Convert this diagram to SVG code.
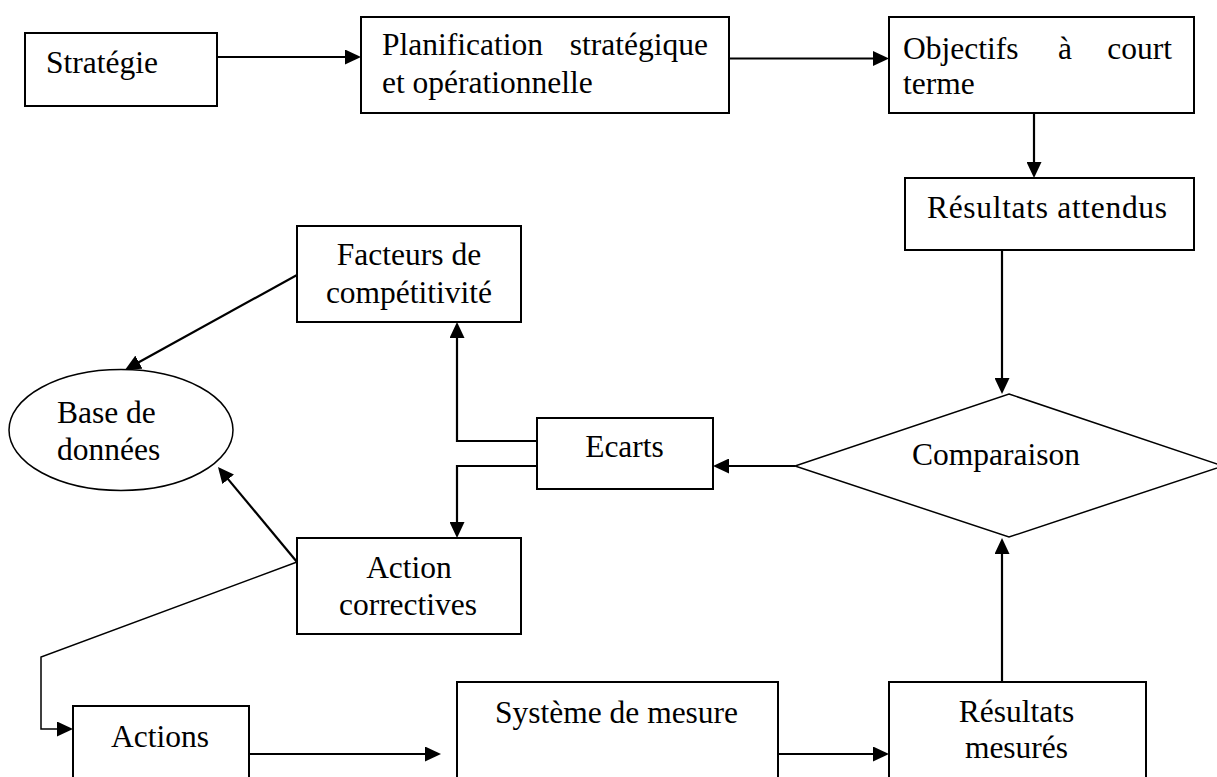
<svg xmlns="http://www.w3.org/2000/svg" width="1217" height="777" viewBox="0 0 1217 777">
  <style>
    text { font-family: "Liberation Serif", "Times New Roman", serif; font-size: 31.5px; fill: #000; }
    .mid { text-anchor: middle; }
    .end { text-anchor: end; }
    .box { fill: #fff; stroke: #000; stroke-width: 2; }
    .thin { fill: #fff; stroke: #000; stroke-width: 1.5; }
    .link { fill: none; stroke: #000; stroke-width: 2.2; }
    .link.fine { stroke-width: 1.5; }
    .arrow { marker-end: url(#head); }
  </style>
  <defs>
    <marker id="head" viewBox="0 0 16 15" refX="10" refY="7.5" markerWidth="16" markerHeight="15" markerUnits="userSpaceOnUse" orient="auto">
      <path d="M0,0 L16,7.5 L0,15 Z" fill="#000"/>
    </marker>
  </defs>

  <rect width="1217" height="777" fill="#fff"/>

  <!-- connectors -->
  <g id="connectors">
    <path class="link arrow" d="M217,57 H355"/>
    <path class="link arrow" d="M729,58.5 H883"/>
    <path class="link arrow" d="M1034,105 V172"/>
    <path class="link arrow" d="M1002,250 V388"/>
    <path class="link arrow" d="M795,466 H719"/>
    <path class="link arrow" d="M537,441 H457 V328"/>
    <path class="link arrow" d="M537,466 H457 V532"/>
    <path class="link arrow" d="M297,275 L130.2,367"/>
    <path class="link arrow" d="M297,562 L221.8,471.6"/>
    <path class="link fine arrow" d="M297,562 L41,657 V729 H67"/>
    <path class="link arrow" d="M249,754 H435"/>
    <path class="link arrow" d="M777,754 H883"/>
    <path class="link arrow" d="M1002,682 V544"/>
  </g>

  <g id="strategie">
    <rect class="box" x="25" y="33" width="192" height="73"/>
    <text x="46" y="73">Stratégie</text>
  </g>

  <g id="planification">
    <rect class="box" x="361" y="17" width="368" height="96"/>
    <text x="382" y="55">Planification</text>
    <text class="end" x="708" y="55">stratégique</text>
    <text x="382" y="93">et opérationnelle</text>
  </g>

  <g id="objectifs">
    <rect class="box" x="889" y="17" width="305" height="96"/>
    <text x="903" y="59">Objectifs</text>
    <text x="1058" y="59">à</text>
    <text class="end" x="1172" y="59">court</text>
    <text x="903" y="94">terme</text>
  </g>

  <g id="resultats-attendus">
    <rect class="box" x="905" y="178" width="289" height="72"/>
    <text x="927" y="218" textLength="240" lengthAdjust="spacing">Résultats attendus</text>
  </g>

  <g id="facteurs">
    <rect class="box" x="297" y="226" width="224" height="96"/>
    <text class="mid" x="409" y="265">Facteurs de</text>
    <text class="mid" x="409" y="303">compétitivité</text>
  </g>

  <g id="base-de-donnees">
    <ellipse class="thin" cx="121" cy="430" rx="112" ry="60.5"/>
    <text x="57" y="423">Base de</text>
    <text x="57" y="460">données</text>
  </g>

  <g id="ecarts">
    <rect class="box" x="537" y="418" width="176" height="71"/>
    <text class="mid" x="624.5" y="457">Ecarts</text>
  </g>

  <g id="comparaison">
    <polygon class="thin" points="1009,394 1223,466 1009,537 795,466"/>
    <text class="mid" x="996" y="465">Comparaison</text>
  </g>

  <g id="action-correctives">
    <rect class="box" x="297" y="538" width="224" height="96"/>
    <text class="mid" x="409" y="578">Action</text>
    <text class="mid" x="408" y="615">correctives</text>
  </g>

  <g id="actions">
    <rect class="box" x="73" y="706" width="176" height="100"/>
    <text class="mid" x="160" y="747">Actions</text>
  </g>

  <g id="systeme-de-mesure">
    <rect class="box" x="457" y="682" width="321" height="120"/>
    <text class="mid" x="616.5" y="723">Système de mesure</text>
  </g>

  <g id="resultats-mesures">
    <rect class="box" x="889" y="682" width="257" height="120"/>
    <text class="mid" x="1016.5" y="722">Résultats</text>
    <text class="mid" x="1016.5" y="758">mesurés</text>
  </g>
</svg>
